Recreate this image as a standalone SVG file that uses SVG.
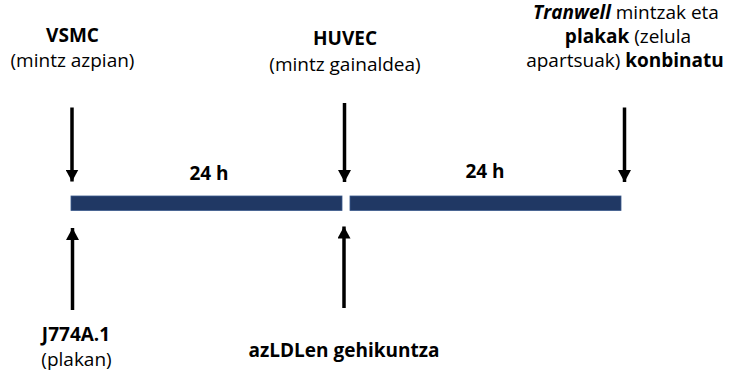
<svg xmlns="http://www.w3.org/2000/svg" width="729" height="375" viewBox="0 0 729 375">
<style>
text{font-family:"Open Sans","Noto Sans","Liberation Sans",sans-serif;font-size:19px;fill:#000;text-anchor:middle}
.b{font-weight:bold}
.bar{fill:#203864;stroke:#3B5A8C;stroke-width:0.8}
.arr{stroke:#000;stroke-width:3.5;fill:none;marker-end:url(#ah)}
</style>
<defs>
<marker id="ah" markerUnits="userSpaceOnUse" markerWidth="13" markerHeight="13" viewBox="0 0 13 13" refX="12" refY="6.5" orient="auto">
<path d="M0,0 L12,6.5 L0,13 Z" fill="#000"/>
</marker>
</defs>
<rect width="729" height="375" fill="#fff"/>
<g id="timeline">
<rect id="bar1" class="bar" x="71" y="196" width="271" height="14.5"/>
<rect id="bar2" class="bar" x="350" y="196" width="271" height="14.5"/>
</g>
<g id="vsmc"><text x="72.5" y="42" class="b">VSMC</text><text x="72.5" y="67">(mintz azpian)</text></g>
<g id="huvec"><text x="345" y="45" class="b">HUVEC</text><text x="345" y="71">(mintz gainaldea)</text></g>
<g id="tranwell">
<text x="626" y="19"><tspan class="b" font-style="italic">Tranwell</tspan> mintzak eta</text>
<text x="628" y="43"><tspan class="b">plakak</tspan> (zelula</text>
<text x="625" y="67">apartsuak) <tspan class="b">konbinatu</tspan></text>
</g>
<g id="h1"><text x="209" y="180" class="b">24 h</text></g>
<g id="h2"><text x="485" y="177.5" class="b">24 h</text></g>
<g id="j774"><text x="76" y="341" class="b">J774A.1</text><text x="76.5" y="366">(plakan)</text></g>
<g id="azldl"><text x="344" y="357" class="b">azLDLen gehikuntza</text></g>
<g id="connectors">
<line class="arr" x1="72" y1="107.5" x2="72" y2="181.5"/>
<line class="arr" x1="344.5" y1="103" x2="344.5" y2="182"/>
<line class="arr" x1="624.5" y1="107.5" x2="624.5" y2="182"/>
<line class="arr" x1="72.5" y1="310" x2="72.5" y2="228"/>
<line class="arr" x1="344" y1="308" x2="344" y2="226.5"/>
</g>
</svg>
